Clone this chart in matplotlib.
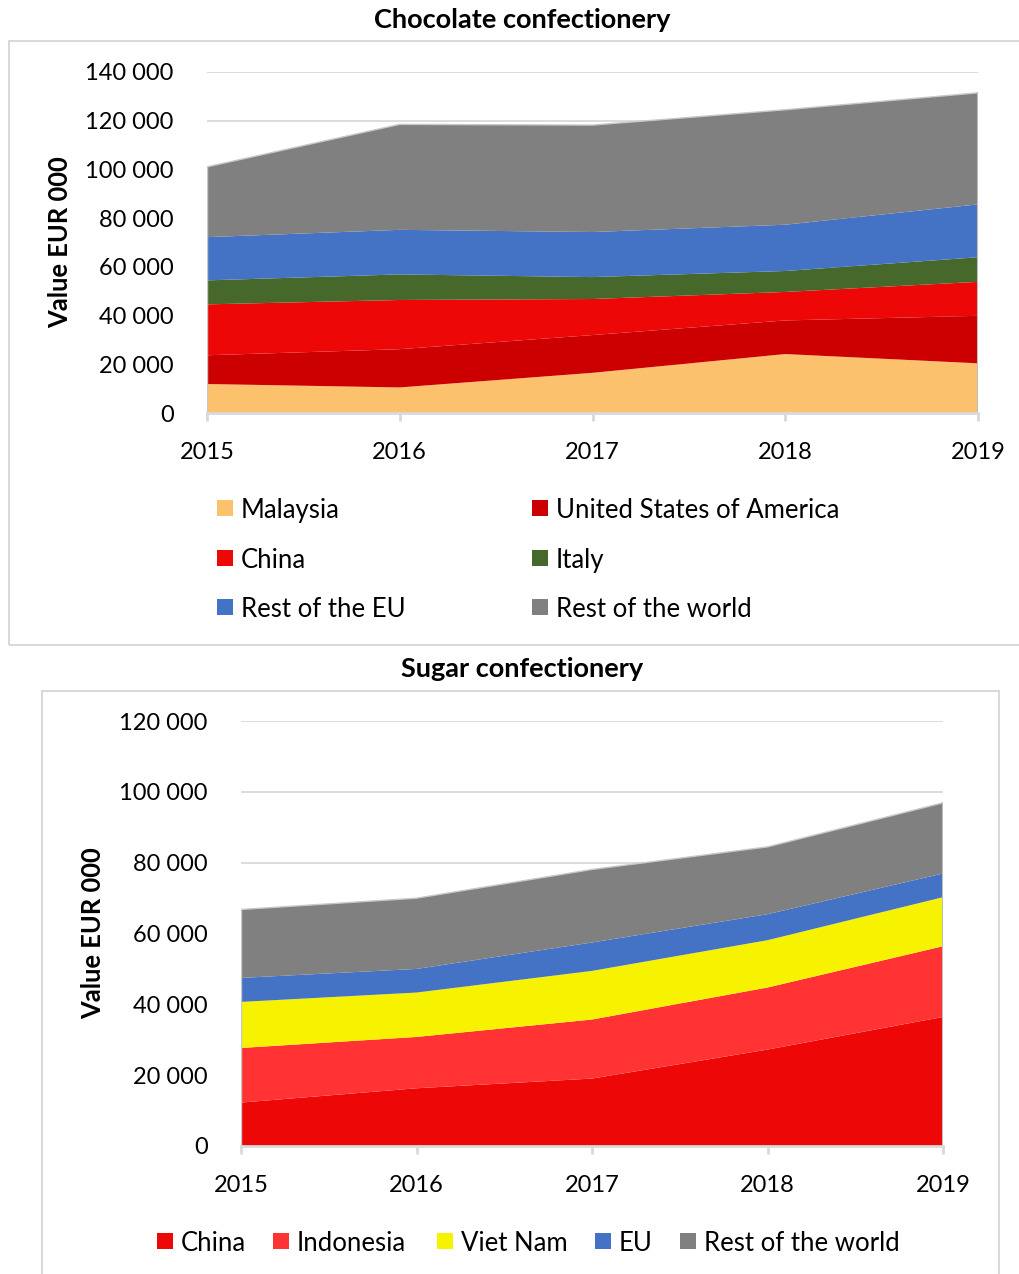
import matplotlib
matplotlib.use("Agg")
import matplotlib.pyplot as plt
from matplotlib.patches import Rectangle
from matplotlib.ticker import FuncFormatter

plt.rcParams['font.family'] = ['Lato', 'DejaVu Sans']

# ---------------- data ----------------
years = [2015, 2016, 2017, 2018, 2019]

choc_labels = ["Malaysia", "United States of America", "China", "Italy",
               "Rest of the EU", "Rest of the world"]
choc_malaysia = [11900, 10500, 16500, 24200, 20400]
choc_usa = [11800, 15700, 15500, 13800, 19500]
choc_china = [20900, 20200, 14800, 11700, 13950]
choc_italy = [9850, 10500, 9000, 8600, 10100]
choc_rest_eu = [17750, 18300, 18500, 19000, 21700]
choc_rest_world = [28850, 43300, 43900, 47200, 45800]
choc_colors = ["#FBC16D", "#CC0000", "#EE0707", "#46682A", "#4472C4", "#808080"]
choc_yticks = [0, 20000, 40000, 60000, 80000, 100000, 120000, 140000]

sugar_labels = ["China", "Indonesia", "Viet Nam", "EU", "Rest of the world"]
sugar_china = [12260, 16300, 19040, 27230, 36440]
sugar_indonesia = [15420, 14490, 16670, 17520, 19970]
sugar_vietnam = [13000, 12540, 13730, 13360, 13840]
sugar_eu = [6780, 6670, 8020, 7340, 6700]
sugar_rest_world = [19320, 19970, 20620, 19010, 19940]
sugar_colors = ["#EE0707", "#FF3333", "#F7F300", "#4472C4", "#808080"]
sugar_yticks = [0, 20000, 40000, 60000, 80000, 100000, 120000]

# ---------------- layout ----------------
W, H = 1020, 1274
fig = plt.figure(figsize=(W / 100, H / 100), dpi=100)
GRID = "#D9D9D9"
FS = 17
FS_LEG = 18.5
FS_TITLE = 19.5
FS_YLAB = 18.4


def fx(x):
    return x / W


def fy(y):
    return 1 - y / H


def fmt(v, _):
    return f"{int(v):,}".replace(",", " ")


def panel(rect, series, colors, yticks, ylabel_x):
    l, t, r, b = rect
    ax = fig.add_axes([fx(l), fy(b), fx(r - l), (b - t) / H])
    ax.stackplot(years, *series, colors=colors, edgecolor="none", zorder=2)
    total = [sum(v) for v in zip(*series)]
    ax.plot(years, total, color="#C8C8C8", lw=1.0, zorder=3)
    ax.plot([years[0], years[0]], [0, total[0]], color="#C8C8C8", lw=1.0, zorder=3)
    ax.plot([years[-1], years[-1]], [0, total[-1]], color="#BDBDBD", lw=1.5, zorder=3)
    ax.set_xlim(years[0], years[-1])
    ax.set_ylim(yticks[0], yticks[-1])
    ax.set_yticks(yticks)
    ax.yaxis.set_major_formatter(FuncFormatter(fmt))
    ax.set_xticks(years)
    ax.set_xticklabels([str(y) for y in years])
    ax.grid(axis="y", color=GRID, lw=1.3, zorder=0)
    ax.set_axisbelow(True)
    for s in ["top", "right", "left"]:
        ax.spines[s].set_visible(False)
    ax.spines["bottom"].set_color(GRID)
    ax.spines["bottom"].set_linewidth(2)
    ax.spines["bottom"].set_zorder(4)
    ax.tick_params(axis="y", length=0, pad=24, labelsize=FS)
    ax.tick_params(axis="x", length=6, width=2, color=GRID, pad=15, labelsize=FS)
    fig.text(fx(ylabel_x), fy((t + b) / 2), "Value EUR 000", rotation=90,
             ha="center", va="center", fontsize=FS_YLAB, fontweight="bold")
    return ax


# boxes
fig.patches.append(Rectangle((fx(9), fy(645)), fx(1030 - 9), (645 - 41) / H,
                             transform=fig.transFigure, fill=False,
                             edgecolor=GRID, lw=1.5))
fig.patches.append(Rectangle((fx(42), fy(1290)), fx(999 - 42), (1290 - 691) / H,
                             transform=fig.transFigure, fill=False,
                             edgecolor=GRID, lw=1.5))

# titles
fig.text(fx(522), fy(20), "Chocolate confectionery", ha="center", va="center",
         fontsize=FS_TITLE, fontweight="bold")
fig.text(fx(522), fy(669), "Sugar confectionery", ha="center", va="center",
         fontsize=FS_TITLE, fontweight="bold")

panel((207, 72, 978, 413),
      [choc_malaysia, choc_usa, choc_china, choc_italy, choc_rest_eu, choc_rest_world],
      choc_colors, choc_yticks, 60)
panel((241, 721, 943, 1146),
      [sugar_china, sugar_indonesia, sugar_vietnam, sugar_eu, sugar_rest_world],
      sugar_colors, sugar_yticks, 93)


def legend_item(x, y, label, color):
    fig.patches.append(Rectangle((fx(x), fy(y + 8)), 16 / W, 16 / H,
                                 transform=fig.transFigure, facecolor=color,
                                 edgecolor="none"))
    fig.text(fx(x + 24), fy(y), label, ha="left", va="center_baseline",
             fontsize=FS_LEG)


# top legend: 2 columns x 3 rows
col_x = [217, 532]
row_y = [508, 558, 607]
for i, (lab, c) in enumerate(zip(choc_labels, choc_colors)):
    legend_item(col_x[i % 2], row_y[i // 2], lab, c)

# bottom legend: one row
item_x = [157, 273, 437, 595, 680]
for lab, c, x in zip(sugar_labels, sugar_colors, item_x):
    legend_item(x, 1241, lab, c)

fig.savefig("out.png", dpi=100)
